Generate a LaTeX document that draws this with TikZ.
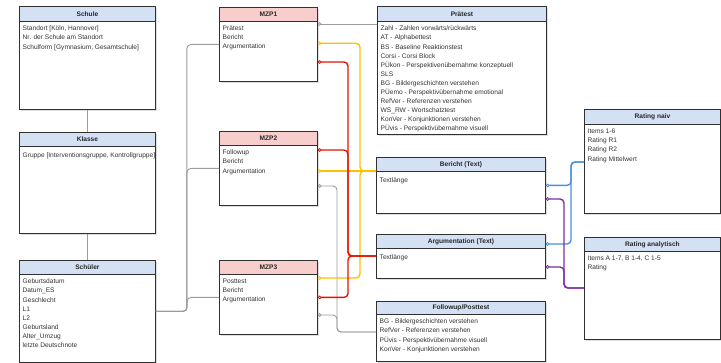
\documentclass[tikz,border=0pt]{standalone}
\usepackage{fontspec}
\setmainfont{Liberation Sans}
\usetikzlibrary{arrows.meta,calc,shadows}
\definecolor{bordercol}{HTML}{303030}
\definecolor{hblue}{HTML}{D4E1F5}
\definecolor{hpink}{HTML}{F8CECC}
\definecolor{txtcol}{HTML}{333333}
\definecolor{cgrey}{HTML}{9C9C9C}
\definecolor{cyel}{HTML}{FFBF00}
\definecolor{cred}{HTML}{E51400}
\definecolor{cblu}{HTML}{4A8FE2}
\definecolor{cpur}{HTML}{7B2FA0}
\newcommand\entbox[8]{%
  \node[ent, minimum width=#4pt, minimum height=#5pt] (#1) at (#2,#3) {};
  \node[hdr, fill=#7, minimum width=#4pt, minimum height=#6pt] (#1-h) at (#2,#3) {#8};
}
\begin{document}
\begin{tikzpicture}[x=1pt,y=-1pt,
  ent/.style={draw=bordercol, line width=0.9pt, fill=white, inner sep=0pt, anchor=north west,
    drop shadow={shadow xshift=1.2pt, shadow yshift=-1.2pt, opacity=0.25}},
  hdr/.style={draw=bordercol, line width=0.9pt, anchor=north west, inner sep=0pt,
    font=\bfseries\fontsize{6.6}{8}\selectfont, text=black!85},
  body/.style={anchor=north west, align=left, inner sep=0pt, text=txtcol,
    font=\fontsize{6.6}{9.1}\selectfont, execute at begin node={\rule{0pt}{6pt}}},
  conn/.style={rounded corners=4pt},
  cg/.style={conn, draw=cgrey, line width=0.9pt},
  cy/.style={conn, draw=cyel, line width=1.4pt},
  cr/.style={conn, draw=cred, line width=1.4pt},
  cb/.style={conn, draw=cblu, line width=1.4pt},
  cp/.style={conn, draw=cpur, line width=1.4pt},
  tgt/.style={arrows={-Circle[open,length=3.6pt,width=3.6pt,line width=0.8pt]}}
]
\useasboundingbox (0,0) rectangle (721,363);

% ---- boxes ----
\entbox{schule}{19}{6}{136}{103}{15}{hblue}{Schule}
\node[body] (schule-t) at ($(schule-h.south west)+(3.5,4)$)
  {Standort [Köln, Hannover]\\Nr. der Schule am Standort\\Schulform [Gymnasium, Gesamtschule]};

\entbox{klasse}{19}{132}{136}{101}{14}{hblue}{Klasse}
\node[body] (klasse-t) at ($(klasse-h.south west)+(3.5,4)$)
  {Gruppe [Interventionsgruppe, Kontrollgruppe]};

\entbox{schueler}{19}{260}{136}{102}{14}{hblue}{Schüler}
\node[body] (schueler-t) at ($(schueler-h.south west)+(3.5,4)$)
  {Geburtsdatum\\Datum\_ES\\Geschlecht\\L1\\L2\\Geburtsland\\Alter\_Umzug\\letzte Deutschnote};

\entbox{mzp1}{219}{7}{98}{74}{14}{hpink}{MZP1}
\node[body] (mzp1-t) at ($(mzp1-h.south west)+(3.5,4)$) {Prätest\\Bericht\\Argumentation};

\entbox{mzp2}{219}{131}{98}{74}{14}{hpink}{MZP2}
\node[body] (mzp2-t) at ($(mzp2-h.south west)+(3.5,4)$) {Followup\\Bericht\\Argumentation};

\entbox{mzp3}{219}{260}{98}{74}{14}{hpink}{MZP3}
\node[body] (mzp3-t) at ($(mzp3-h.south west)+(3.5,4)$) {Posttest\\Bericht\\Argumentation};

\entbox{praetest}{377}{6}{169}{128}{15}{hblue}{Prätest}
\node[body] (praetest-t) at ($(praetest-h.south west)+(3.5,4)$)
  {Zahl - Zahlen vorwärts/rückwärts\\AT - Alphabettest\\BS - Baseline Reaktionstest\\Corsi - Corsi Block\\PÜkon - Perspektivenübernahme konzeptuell\\SLS\\BG - Bildergeschichten verstehen\\PÜemo - Perspektivübernahme emotional\\RefVer - Referenzen verstehen\\WS\_RW - Wortschatztest\\KonVer - Konjunktionen verstehen\\PÜvis - Perspektivübernahme visuell};

\entbox{bericht}{376}{157}{169}{56}{14}{hblue}{Bericht (Text)}
\node[body] (bericht-t) at ($(bericht-h.south west)+(3.5,4)$) {Textlänge};

\entbox{argument}{376}{234}{169}{44}{14}{hblue}{Argumentation (Text)}
\node[body] (argument-t) at ($(argument-h.south west)+(3.5,4)$) {Textlänge};

\entbox{followup}{376}{301}{169}{60}{13}{hblue}{Followup/Posttest}
\node[body] (followup-t) at ($(followup-h.south west)+(3.5,4)$)
  {BG - Bildergeschichten verstehen\\RefVer - Referenzen verstehen\\PÜvis - Perspektivübernahme visuell\\KonVer - Konjunktionen verstehen};

\entbox{ratingn}{584}{109}{136}{104}{15}{hblue}{Rating naiv}
\node[body] (ratingn-t) at ($(ratingn-h.south west)+(3.5,4)$)
  {Items 1-6\\Rating R1\\Rating R2\\Rating Mittelwert};

\entbox{ratinga}{584}{237}{136}{102}{14}{hblue}{Rating analytisch}
\node[body] (ratinga-t) at ($(ratinga-h.south west)+(3.5,4)$)
  {Items A 1-7, B 1-4, C 1-5\\Rating};

% ---- grey connectors ----
\draw[cg] (schule.south) -- (klasse.north);
\draw[cg] (klasse.south) -- (schueler.north);
\draw[cg] (schueler.east) -- ++(31,0) |- (mzp1.west);
\draw[cg] (schueler.east) -- ++(31,0) |- (mzp2.west);
\draw[cg] (schueler.east) -- ++(31,0) |- (mzp3.west);

\coordinate (m1p) at ($(praetest.north west)+(0,18)$);
\draw[cg,tgt] (m1p) -- (m1p -| mzp1.east);

\coordinate (fp) at ($(followup.north west)+(0,31)$);
\draw[cg,tgt] (fp) -- ++(-39,0) |- ($(mzp2.north east)+(0,55)$);
\draw[cg,tgt] (fp) -- ++(-39,0) |- ($(mzp3.north east)+(0,55)$);

% ---- yellow: Bericht (Text) ----
\coordinate (yb) at ($(bericht.north west)+(0,14)$);
\draw[cy,tgt] (yb) -- ++(-16,0) |- ($(mzp1.north east)+(0,36.3)$);
\draw[cy,tgt] (yb) -- (yb -| mzp2.east);
\draw[cy,tgt] (yb) -- ++(-16,0) |- ($(mzp3.north east)+(0,18)$);

% ---- red: Argumentation (Text) ----
\coordinate (ra) at ($(argument.north west)+(0,22)$);
\draw[cr,tgt] (ra) -- ++(-28,0) |- ($(mzp1.north east)+(0,55)$);
\draw[cr,tgt] (ra) -- ++(-28,0) |- ($(mzp2.north east)+(0,19)$);
\draw[cr,tgt] (ra) -- ++(-28,0) |- (mzp3.east);

% ---- blue: Rating naiv ----
\coordinate (rn) at ($(ratingn.north west)+(0,53)$);
\draw[cb,tgt] (rn) -- ++(-13,0) |- (bericht.east);
\draw[cb,tgt] (rn) -- ++(-13,0) |- ($(argument.north east)+(0,10)$);

% ---- purple: Rating analytisch ----
\coordinate (rq) at ($(ratinga.north west)+(0,51)$);
\draw[cp,tgt] (rq) -- ++(-20,0) |- ($(bericht.north east)+(0,42)$);
\draw[cp,tgt] (rq) -- ++(-20,0) |- ($(argument.north east)+(0,33)$);
\end{tikzpicture}
\end{document}
